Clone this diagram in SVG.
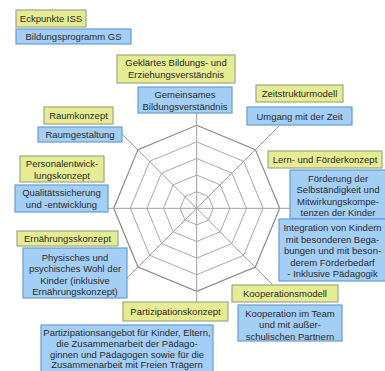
<svg xmlns="http://www.w3.org/2000/svg" width="385" height="371" viewBox="0 0 385 371">
<style>
.y{fill:#e6ec92;stroke:#9aa88a;stroke-width:1.2}
.b{fill:#a3cff6;stroke:#6a9ccb;stroke-width:1.2}
text{font-family:"Liberation Sans",Arial,sans-serif;font-size:9.5px;fill:#2a2a2a;text-anchor:middle}
.ring{fill:none;stroke:#a8a8a8;stroke-width:1}
.outer{fill:none;stroke:#8a8a8a;stroke-width:1.2}
.ax{stroke:#a0a0a0;stroke-width:1;fill:none}
</style>
<rect width="385" height="371" fill="#ffffff"/>
<g id="connectors">
<polygon class="outer" points="196.7,125.3 255.4,149.6 279.7,208.3 255.4,267 196.7,291.3 138,267 113.7,208.3 138,149.6"/>
<polygon class="ring" points="196.7,141.9 243.7,161.3 263.1,208.3 243.7,255.3 196.7,274.7 149.7,255.3 130.3,208.3 149.7,161.3"/>
<polygon class="ring" points="196.7,158.5 231.9,173.1 246.5,208.3 231.9,243.5 196.7,258.1 161.5,243.5 146.9,208.3 161.5,173.1"/>
<polygon class="ring" points="196.7,175.1 220.2,184.8 229.9,208.3 220.2,231.8 196.7,241.5 173.2,231.8 163.5,208.3 173.2,184.8"/>
<polygon class="ring" points="196.7,191.7 208.4,196.6 213.3,208.3 208.4,220 196.7,224.9 185,220 180.1,208.3 185,196.6"/>
<line class="ax" x1="196.7" y1="208.3" x2="196.7" y2="113"/>
<line class="ax" x1="196.7" y1="208.3" x2="279" y2="126"/>
<line class="ax" x1="196.7" y1="208.3" x2="290" y2="208.3"/>
<line class="ax" x1="196.7" y1="208.3" x2="273" y2="285"/>
<line class="ax" x1="196.7" y1="208.3" x2="196.7" y2="302"/>
<line class="ax" x1="196.7" y1="208.3" x2="127" y2="278"/>
<line class="ax" x1="196.7" y1="208.3" x2="108" y2="208.3"/>
<line class="ax" x1="196.7" y1="208.3" x2="122" y2="134"/>
</g>
<g id="eckpunkte"><rect class="y" x="16" y="10" width="70" height="17"/><text x="51" y="22">Eckpunkte ISS</text></g>
<g id="bildungsprogramm"><rect class="b" x="16" y="29" width="115" height="15"/><text x="73.5" y="40">Bildungsprogramm GS</text></g>
<g id="geklaertes"><rect class="y" x="117" y="55" width="118" height="28"/><text x="176" y="66">Geklärtes Bildungs- und</text><text x="176" y="78">Erziehungsverständnis</text></g>
<g id="gemeinsames"><rect class="b" x="138" y="87" width="94" height="26"/><text x="185" y="98">Gemeinsames</text><text x="185" y="110">Bildungsverständnis</text></g>
<g id="zeitstruktur"><rect class="y" x="256" y="85" width="87" height="17"/><text x="299.5" y="97">Zeitstrukturmodell</text></g>
<g id="umgang"><rect class="b" x="247" y="107" width="105" height="18"/><text x="299.5" y="119.5">Umgang mit der Zeit</text></g>
<g id="raumkonzept"><rect class="y" x="44" y="107" width="69" height="17"/><text x="78.5" y="119">Raumkonzept</text></g>
<g id="raumgestaltung"><rect class="b" x="38" y="127" width="84" height="15"/><text x="80" y="138">Raumgestaltung</text></g>
<g id="personal"><rect class="y" x="20" y="156" width="84" height="26"/><text x="62" y="166.5">Personalentwick-</text><text x="62" y="178.5">lungskonzept</text></g>
<g id="qualitaet"><rect class="b" x="15" y="185" width="93" height="27"/><text x="61.5" y="196">Qualitätssicherung</text><text x="61.5" y="208">und -entwicklung</text></g>
<g id="lern"><rect class="y" x="268" y="151" width="114" height="17"/><text x="325" y="163">Lern- und Förderkonzept</text></g>
<g id="foerderung"><rect class="b" x="290" y="170" width="96" height="49"/><text x="338" y="181.5">Förderung der</text><text x="338" y="193">Selbständigkeit und</text><text x="338" y="204.5">Mitwirkungskompe-</text><text x="338" y="216">tenzen der Kinder</text></g>
<g id="integration"><rect class="b" x="279" y="219" width="107" height="62"/><text x="332.5" y="231">Integration von Kindern</text><text x="332.5" y="242.5">mit besonderen Bega-</text><text x="332.5" y="254">bungen und mit beson-</text><text x="332.5" y="265.5">derem Förderbedarf</text><text x="332.5" y="277">- Inklusive Pädagogik</text></g>
<g id="ernaehrung"><rect class="y" x="17" y="231" width="101" height="15"/><text x="67.5" y="242">Ernährungsskonzept</text></g>
<g id="physisches"><rect class="b" x="23" y="248" width="104" height="50"/><text x="75" y="260.5">Physisches und</text><text x="75" y="272">psychisches Wohl der</text><text x="75" y="283.5">Kinder (inklusive</text><text x="75" y="295">Ernährungskonzept)</text></g>
<g id="partizipationskonzept"><rect class="y" x="123" y="302" width="105" height="19"/><text x="175.5" y="315">Partizipationskonzept</text></g>
<g id="partizipationsangebot"><rect class="b" x="41" y="325" width="172" height="52"/><text x="127" y="335.5">Partizipationsangebot für Kinder, Eltern,</text><text x="127" y="346.5">die Zusammenarbeit der Pädago-</text><text x="127" y="357.5">ginnen und Pädagogen sowie für die</text><text x="127" y="368">Zusammenarbeit mit Freien Trägern</text></g>
<g id="kooperationsmodell"><rect class="y" x="232" y="285" width="106" height="17"/><text x="285" y="297">Kooperationsmodell</text></g>
<g id="kooperation"><rect class="b" x="238" y="305" width="104" height="36"/><text x="290" y="316.5">Kooperation im Team</text><text x="290" y="328">und mit außer-</text><text x="290" y="339.5">schulischen Partnern</text></g>
</svg>
